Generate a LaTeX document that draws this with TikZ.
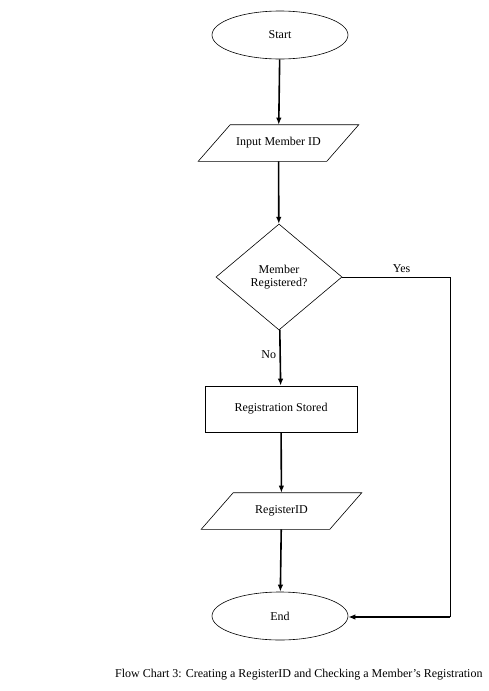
\documentclass[tikz,border=0pt]{standalone}
\usepackage{fontspec}
\setmainfont{Liberation Serif}
\usetikzlibrary{shapes.geometric,arrows.meta}
\begin{document}
\begin{tikzpicture}[x=1pt,y=-1pt,
  base/.style={draw=black,line width=0.6pt,inner sep=0pt,font=\fontsize{12}{13.5}\selectfont,align=center},
  term/.style={base,ellipse,minimum width=136pt,minimum height=48pt},
  iotext/.style={base,draw=none,rectangle,minimum width=128pt,minimum height=36pt},
  para/.style={line width=0.6pt},
  proc/.style={base,rectangle,minimum width=152pt,minimum height=46pt},
  dec/.style={base,diamond,minimum width=126pt,minimum height=106pt},
  flow/.style={line width=1.6pt,-{Latex[length=7pt,width=5.5pt]}},
  thinline/.style={line width=0.8pt},
  lbl/.style={font=\fontsize{12}{13.5}\selectfont}]
\useasboundingbox (0,0) rectangle (488,691);
\node[term] (start) at (280,35) {Start};
\node[iotext] (input) at (278.5,143) {Input Member ID};
\draw[para] ([xshift=-16pt]input.south west) -- ([xshift=16pt]input.north west) -- ([xshift=16pt]input.north east) -- ([xshift=-16pt]input.south east) -- cycle;
\node[dec] (dec) at (279,277) {Member\\Registered?};
\node[proc] (store) at (281,409) {Registration Stored};
\node[iotext] (reg) at (281.5,511) {RegisterID};
\draw[para] ([xshift=-16pt]reg.south west) -- ([xshift=16pt]reg.north west) -- ([xshift=16pt]reg.north east) -- ([xshift=-16pt]reg.south east) -- cycle;
\node[term] (end) at (280,616) {End};
\coordinate (corner) at (450,277);
\coordinate (corner2) at (450,617);
\draw[flow] (start) -- (input);
\draw[flow] (input) -- (dec);
\draw[flow] (dec) -- node[lbl,left=0pt,pos=0.45] {No} (store);
\draw[flow] (store) -- (reg);
\draw[flow] (reg) -- (end);
\draw[thinline] (dec.east) -- node[lbl,above=1pt,pos=0.55] {Yes} (corner) -- (corner2);
\draw[flow] (corner2) -- (end.east |- corner2);
\node[lbl,anchor=east] (cap) at (486,675) {Flow Chart 3: Creating a RegisterID and Checking a Member’s Registration};
\end{tikzpicture}
\end{document}
